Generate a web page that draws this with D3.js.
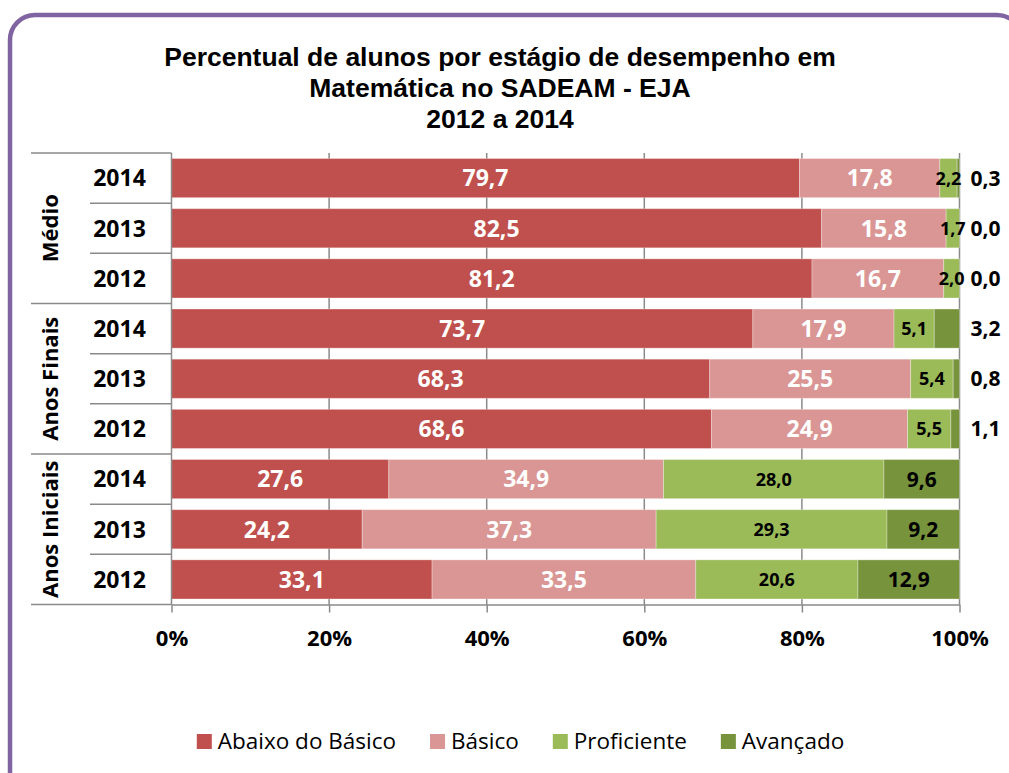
<!DOCTYPE html>
<html>
<head>
<meta charset="utf-8">
<script src="https://cdn.jsdelivr.net/npm/d3@7"></script>
<style>
  html, body { margin: 0; padding: 0; background: #fff; }
  svg { display: block; }
</style>
</head>
<body>
<div id="chart"></div>
<script>
// data
const groups = ["Médio", "Anos Finais", "Anos Iniciais"];
const years = ["2014", "2013", "2012"];
const seriesNames = ["Abaixo do Básico", "Básico", "Proficiente", "Avançado"];
const abaixo = [79.7, 82.5, 81.2, 73.7, 68.3, 68.6, 27.6, 24.2, 33.1];
const basico = [17.8, 15.8, 16.7, 17.9, 25.5, 24.9, 34.9, 37.3, 33.5];
const proficiente = [2.2, 1.7, 2.0, 5.1, 5.4, 5.5, 28.0, 29.3, 20.6];
const avancado = [0.3, 0.0, 0.0, 3.2, 0.8, 1.1, 9.6, 9.2, 12.9];
const xTicks = [0, 0.2, 0.4, 0.6, 0.8, 1];
const titleLines = [
  "Percentual de alunos por estágio de desempenho em",
  "Matemática no SADEAM - EJA",
  "2012 a 2014"
];
const colors = ["#C0504D", "#DA9694", "#9BBB59", "#77933C"];

// 1) svg
const width = 1009, height = 773;
const svg = d3.select("#chart").append("svg")
  .attr("width", width)
  .attr("height", height);

// frame
svg.append("rect")
  .attr("x", 10).attr("y", 15)
  .attr("width", 1012).attr("height", 800)
  .attr("rx", 25)
  .attr("fill", "#fff")
  .attr("stroke", "#8064A2")
  .attr("stroke-width", 4.5);

// 2) rows
const rows = [];
groups.forEach((g, gi) => {
  years.forEach((y, yi) => {
    const i = gi * years.length + yi;
    rows.push({
      key: g + "|" + y, group: g, year: y,
      "Abaixo do Básico": abaixo[i],
      "Básico": basico[i],
      "Proficiente": proficiente[i],
      "Avançado": avancado[i]
    });
  });
});

const stacked = d3.stack()
  .keys(seriesNames)
  .offset(d3.stackOffsetExpand)(rows);

// 3) scales
const x = d3.scaleLinear().domain([0, 1]).range([171.5, 959.5]);
const y = d3.scaleBand()
  .domain(rows.map(d => d.key))
  .range([153, 604.5])
  .paddingInner(0.22)
  .paddingOuter(0.11);

const gridColor = "#8a8a8a";

// gridlines
svg.append("g")
  .selectAll("line")
  .data(xTicks.slice(1))
  .join("line")
  .attr("x1", d => x(d)).attr("x2", d => x(d))
  .attr("y1", 153).attr("y2", 604.5)
  .attr("stroke", gridColor)
  .attr("stroke-width", 1.5);

// 4) bars
const layer = svg.append("g")
  .selectAll("g")
  .data(stacked)
  .join("g")
  .attr("fill", (d, i) => colors[i]);

layer.selectAll("rect")
  .data(d => d)
  .join("rect")
  .attr("x", d => x(d[0]))
  .attr("y", d => y(d.data.key))
  .attr("width", d => Math.max(0, x(d[1]) - x(d[0])))
  .attr("height", y.bandwidth())
  .attr("stroke", "#fff")
  .attr("stroke-opacity", 0.3)
  .attr("stroke-width", 1);

// 5) value labels
const fmt = v => d3.format(".1f")(v).replace(".", ",");
const labelFont = "'Open Sans', sans-serif";
const labelSizes = [23, 23, 18, 21];

stacked.forEach((s, si) => {
  svg.append("g")
    .selectAll("text")
    .data(s)
    .join("text")
    .attr("x", d => {
      const v = d.data[s.key];
      if (si === 3 && v < 5) return x(1) + 26;
      return (x(d[0]) + x(d[1])) / 2;
    })
    .attr("y", d => y(d.data.key) + y.bandwidth() / 2)
    .attr("dy", "0.36em")
    .attr("text-anchor", "middle")
    .attr("font-family", labelFont)
    .attr("font-weight", "bold")
    .attr("font-size", labelSizes[si])
    .attr("fill", si < 2 ? "#fff" : "#000")
    .text(d => fmt(d.data[s.key]));
});

// 6) x axis
const xAxis = d3.axisBottom(x)
  .tickValues(xTicks)
  .tickFormat(d3.format(".0%"))
  .tickSize(8)
  .tickSizeOuter(0)
  .tickPadding(18);

const gx = svg.append("g")
  .attr("transform", "translate(0,604.5)")
  .call(xAxis);
gx.select(".domain").attr("stroke", gridColor).attr("stroke-width", 1.5);
gx.selectAll(".tick line").attr("stroke", gridColor).attr("stroke-width", 1.5);
gx.selectAll(".tick text")
  .attr("fill", "#000")
  .attr("font-family", labelFont)
  .attr("font-weight", "bold")
  .attr("font-size", 22);

// 7) category axis (years + groups)
svg.append("line")
  .attr("x1", x(0)).attr("x2", x(0))
  .attr("y1", 153).attr("y2", 604.5)
  .attr("stroke", gridColor)
  .attr("stroke-width", 1.5);

const step = y.step();
const boundaries = d3.range(rows.length + 1).map(i => ({
  y: 153 + i * step,
  isGroup: i % years.length === 0
}));
svg.append("g")
  .selectAll("line")
  .data(boundaries)
  .join("line")
  .attr("x1", d => d.isGroup ? 31 : 90)
  .attr("x2", x(0))
  .attr("y1", d => d.y).attr("y2", d => d.y)
  .attr("stroke", gridColor)
  .attr("stroke-width", 1.5);

svg.append("g")
  .selectAll("text")
  .data(rows)
  .join("text")
  .attr("x", 119.5)
  .attr("y", d => y(d.key) + y.bandwidth() / 2)
  .attr("dy", "0.36em")
  .attr("text-anchor", "middle")
  .attr("font-family", labelFont)
  .attr("font-weight", "bold")
  .attr("font-size", 23)
  .attr("fill", "#000")
  .text(d => d.year);

svg.append("g")
  .selectAll("text")
  .data(groups)
  .join("text")
  .attr("transform", (g, gi) => {
    const cy = 153 + (gi * years.length + years.length / 2) * step;
    return `translate(50,${cy}) rotate(-90)`;
  })
  .attr("dy", "0.36em")
  .attr("text-anchor", "middle")
  .attr("font-family", labelFont)
  .attr("font-weight", "bold")
  .attr("font-size", 22)
  .attr("fill", "#000")
  .text(d => d);

// 8) title
svg.append("g")
  .selectAll("text")
  .data(titleLines)
  .join("text")
  .attr("x", 500)
  .attr("y", (d, i) => 66 + i * 31)
  .attr("text-anchor", "middle")
  .attr("font-family", "'Liberation Sans', Arial, sans-serif")
  .attr("font-weight", "bold")
  .attr("font-size", 26.5)
  .attr("fill", "#000")
  .text(d => d);

// 9) legend
const legend = svg.append("g");
let lx = 0;
seriesNames.forEach((name, i) => {
  const item = legend.append("g").attr("transform", `translate(${lx},0)`);
  item.append("rect")
    .attr("x", 0).attr("y", 734)
    .attr("width", 15).attr("height", 15)
    .attr("fill", colors[i]);
  const t = item.append("text")
    .attr("x", 21).attr("y", 749)
    .attr("font-family", labelFont)
    .attr("font-size", 22.5)
    .attr("fill", "#000")
    .text(name);
  lx += 21 + t.node().getComputedTextLength() + 34;
});
const legendWidth = lx - 34;
legend.attr("transform", `translate(${520.5 - legendWidth / 2},0)`);
</script>
</body>
</html>
